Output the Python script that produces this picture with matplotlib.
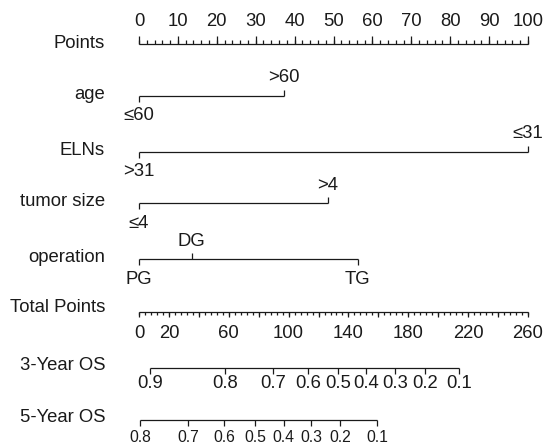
import numpy as np
import matplotlib
matplotlib.use('Agg')
import matplotlib.pyplot as plt

plt.rcParams['font.family'] = ['Liberation Sans', 'DejaVu Sans']

# Points scale
points_ticks = list(range(0, 101, 10))
points_minor = list(range(0, 101, 2))

# predictor rows: label, category names, points, label above (True) or below
rows = [
    ('age', ['\u226460', '>60'], [0, 37.3], [False, True]),
    ('ELNs', ['>31', '\u226431'], [0, 100], [False, True]),
    ('tumor size', ['\u22644', '>4'], [0, 48.5], [False, True]),
    ('operation', ['PG', 'DG', 'TG'], [0, 13.5, 56.2], [False, True, False]),
]
row_y = [95.5, 151.5, 203, 259]

# Total points scale
total_max = 260
total_labels = [0, 20, 60, 100, 140, 180, 220, 260]
total_major = list(range(0, 261, 20))
total_minor = list(range(0, 261, 4))

# survival scales: probability -> total points
os3_labels = ['0.9', '0.8', '0.7', '0.6', '0.5', '0.4', '0.3', '0.2', '0.1']
os3_points = [7.4, 57.4, 89.5, 113, 133.3, 152, 171, 191, 214]
os5_labels = ['0.8', '0.7', '0.6', '0.5', '0.4', '0.3', '0.2', '0.1']
os5_points = [1, 33, 57, 77.6, 96.6, 115, 134.5, 159]

fig = plt.figure(figsize=(5.44, 4.45), dpi=100)
ax = fig.add_axes([0, 0, 1, 1])
px = 3.89  # pixels per point
ax.set_xlim(-139 / px, (544 - 139) / px)
ax.set_ylim(445, 0)
ax.axis('off')

lw = 0.9
fs = 13.3
col = '#1a1a1a'
lab_x = (105 - 139) / px  # right edge of row labels

def hline(y, x0, x1):
    ax.plot([x0, x1], [y, y], color=col, lw=lw, solid_capstyle='butt')

def ticks(xs, y, length):
    for x in xs:
        ax.plot([x, x], [y, y + length], color=col, lw=lw, solid_capstyle='butt')

def label(x, y, s, size=fs, ha='center'):
    ax.text(x, y, s, ha=ha, va='center', fontsize=size, color=col)

# Points
y = 43.5
label(lab_x, y, 'Points', ha='right')
hline(y, 0, 100)
ticks(points_minor, y, -3.5)
ticks(points_ticks, y, -7.5)
for t in points_ticks:
    label(t, 22, str(t))

# predictors
for (name, cats, pts, above), yy in zip(rows, row_y):
    label(lab_x, yy - 1, name, ha='right')
    hline(yy, min(pts), max(pts))
    for c, p, a in zip(cats, pts, above):
        if a:
            ticks([p], yy, -6)
            label(p, yy - 18, c)
        else:
            ticks([p], yy, 6)
            label(p, yy + 20, c)

# Total Points
scale = 100 / total_max
y = 312
label(lab_x, 307, 'Total Points', ha='right')
hline(y, 0, 100)
ticks([t * scale for t in total_minor], y, 2.5)
ticks([t * scale for t in total_major], y, 5)
for t in total_labels:
    label(t * scale, 333, str(t))

# 3-Year OS
y = 367.5
label(lab_x, 365, '3-Year OS', ha='right')
p3 = [t * scale for t in os3_points]
hline(y, min(p3), max(p3))
ticks(p3, y, 6)
for lab, p in zip(os3_labels, p3):
    label(p, 383.5, lab)

# 5-Year OS
y = 420
label(lab_x, 418, '5-Year OS', ha='right')
p5 = [t * scale for t in os5_points]
hline(y, min(p5), max(p5))
ticks(p5, y, 6)
for lab, p in zip(os5_labels, p5):
    label(p, 437.5, lab, size=11.3)

fig.savefig('out.png', dpi=100)
